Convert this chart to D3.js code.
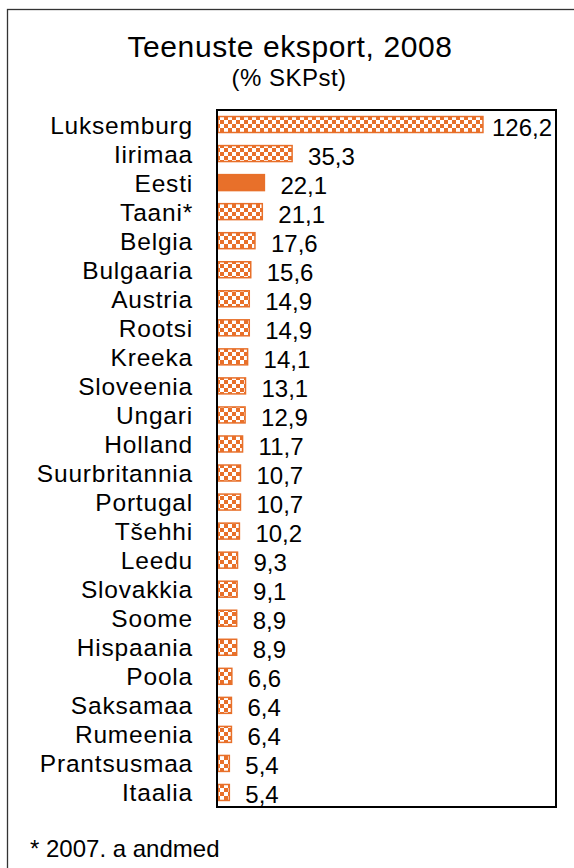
<!DOCTYPE html>
<html lang="et">
<head>
<meta charset="UTF-8">
<title>Teenuste eksport, 2008</title>
<script src="https://d3js.org/d3.v7.min.js"></script>
<style>
    body { margin: 0; padding: 0; background: #fff; }
    svg { display: block; font-family: 'Liberation Sans', Arial, sans-serif; }
    .cat { font-size: 24.5px; fill: #000; text-anchor: end; letter-spacing: 0.8px; }
    .val { font-size: 24px; fill: #000; }
</style>
</head>
<body>
<svg width="574" height="868"></svg>
<script>
    const countries = ["Luksemburg", "Iirimaa", "Eesti", "Taani*", "Belgia", "Bulgaaria", "Austria",
        "Rootsi", "Kreeka", "Sloveenia", "Ungari", "Holland", "Suurbritannia", "Portugal", "Tšehhi",
        "Leedu", "Slovakkia", "Soome", "Hispaania", "Poola", "Saksamaa", "Rumeenia", "Prantsusmaa", "Itaalia"];
    const values = [126.2, 35.3, 22.1, 21.1, 17.6, 15.6, 14.9, 14.9, 14.1, 13.1, 12.9, 11.7, 10.7, 10.7,
        10.2, 9.3, 9.1, 8.9, 8.9, 6.6, 6.4, 6.4, 5.4, 5.4];
    const highlight = "Eesti";

    const svg = d3.select("svg");
    const orange = "#e8702a";

    // checker pattern
    const defs = svg.append("defs");
    const pat = defs.append("pattern")
        .attr("id", "checker")
        .attr("patternUnits", "userSpaceOnUse")
        .attr("width", 8).attr("height", 8);
    pat.append("rect").attr("width", 8).attr("height", 8).attr("fill", orange);
    pat.append("rect").attr("x", 0).attr("y", 0).attr("width", 4).attr("height", 4).attr("fill", "#fff");
    pat.append("rect").attr("x", 4).attr("y", 4).attr("width", 4).attr("height", 4).attr("fill", "#fff");

    // outer frame
    svg.append("rect")
        .attr("x", 7.5).attr("y", 9.5)
        .attr("width", 580).attr("height", 880)
        .attr("fill", "none")
        .attr("stroke", "#333")
        .attr("stroke-width", 1.3);

    const data = countries.map((c, i) => ({ name: c, value: values[i] }));

    const plot = { left: 217, right: 556, top: 110, bottom: 807 };

    const x = d3.scaleLinear()
        .domain([0, 161])
        .range([plot.left + 1, plot.right]);

    const y = d3.scaleBand()
        .domain(countries)
        .range([plot.top, plot.bottom])
        .paddingInner(0.45)
        .paddingOuter(0.225);

    // titles
    svg.append("text")
        .attr("x", 290).attr("y", 57)
        .attr("text-anchor", "middle")
        .attr("font-size", 30)
        .attr("letter-spacing", 0.6)
        .text("Teenuste eksport, 2008");
    svg.append("text")
        .attr("x", 289).attr("y", 86)
        .attr("text-anchor", "middle")
        .attr("font-size", 24)
        .attr("letter-spacing", 0.5)
        .text("(% SKPst)");

    // bars
    svg.selectAll(".bar")
        .data(data)
        .enter()
        .append("rect")
        .attr("class", "bar")
        .attr("x", x(0))
        .attr("y", d => y(d.name))
        .attr("width", d => x(d.value) - x(0))
        .attr("height", y.bandwidth())
        .attr("fill", d => d.name === highlight ? orange : "url(#checker)")
        .attr("stroke", orange)
        .attr("stroke-width", 1.5);

    // plot frame
    svg.append("rect")
        .attr("x", plot.left).attr("y", plot.top)
        .attr("width", plot.right - plot.left)
        .attr("height", plot.bottom - plot.top)
        .attr("fill", "none")
        .attr("stroke", "#000")
        .attr("stroke-width", 2);

    // category labels
    svg.selectAll(".cat")
        .data(data)
        .enter()
        .append("text")
        .attr("class", "cat")
        .attr("x", 193)
        .attr("y", d => y(d.name) + y.bandwidth() / 2 + 9)
        .text(d => d.name);

    // value labels
    svg.selectAll(".val")
        .data(data)
        .enter()
        .append("text")
        .attr("class", "val")
        .attr("x", d => d.value > 100 ? x(d.value) + 9 : x(d.value) + 16)
        .attr("y", d => y(d.name) + y.bandwidth() / 2 + 11)
        .text(d => d3.format(".1f")(d.value).replace(".", ","));

    // footnote
    svg.append("text")
        .attr("x", 30).attr("y", 857)
        .attr("font-size", 24)
        .text("* 2007. a andmed");
</script>
</body>
</html>
